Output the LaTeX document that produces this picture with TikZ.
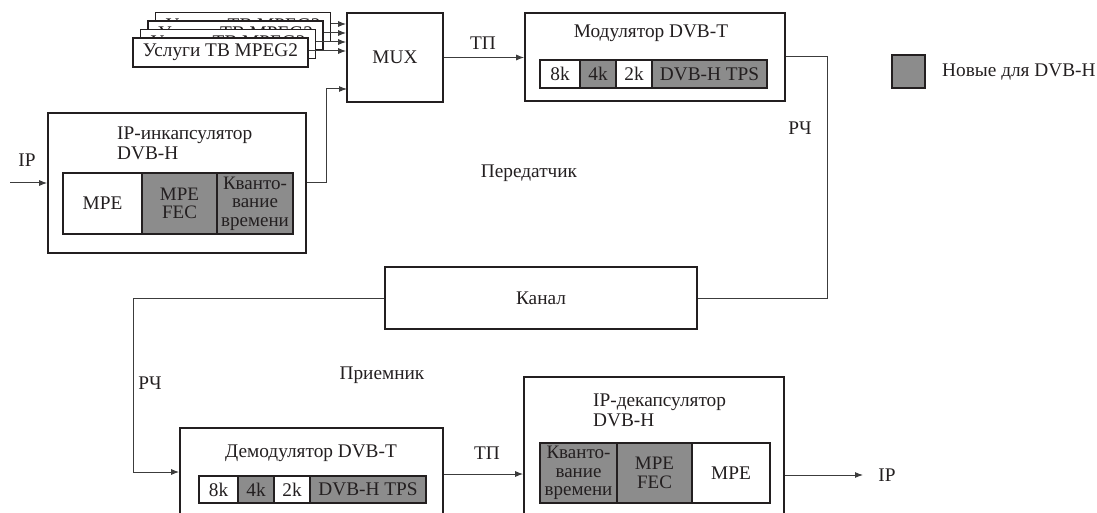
\documentclass[tikz,border=0pt]{standalone}
\usepackage{fontspec}
\setmainfont{Liberation Serif}
\usetikzlibrary{arrows.meta}
\definecolor{newgray}{RGB}{140,140,140}
\definecolor{edgecol}{RGB}{35,31,32}
\definecolor{wirecol}{RGB}{60,60,60}
\tikzset{
  every node/.style={font=\fontsize{19.3}{20}\selectfont, text=edgecol},
  blk/.style 2 args={draw=edgecol, line width=1.6pt, fill=white, inner sep=0pt,
    minimum width=#1pt, minimum height=#2pt},
  newblk/.style 2 args={blk={#1}{#2}, fill=newgray},
  wire/.style={draw=wirecol, line width=1pt},
  arr/.style={wire, -{Latex[length=8pt,width=6pt]}},
  lbl/.style={inner sep=0pt},
  cellt/.style={align=center, font=\fontsize{19}{18.5}\selectfont}
}
\begin{document}
\begin{tikzpicture}[x=1pt,y=-1pt]
\useasboundingbox (0,0) rectangle (1097,513);
\clip (0,0) rectangle (1097,513);

% service boxes (stacked)
\node[blk={175}{29}] (s4) at (243,27) {Услуги ТВ MPEG2};
\node[blk={175}{29}] (s3) at (235.5,35.5) {Услуги ТВ MPEG2};
\node[blk={175}{29}] (s2) at (228,44) {Услуги ТВ MPEG2};
\node[blk={175}{29}] (s1) at (220.5,52.5) {Услуги ТВ MPEG2};

% MUX
\node[blk={96}{89}] (mux) at (395,57.5) {MUX};

% service arrows
\draw[arr] ([yshift=3pt]s4.east) -- ([yshift=3pt]s4.east -| mux.west);
\draw[arr] ([yshift=2.5pt]s3.east) -- ([yshift=2.5pt]s3.east -| mux.west);
\draw[arr] ([yshift=2pt]s2.east) -- ([yshift=2pt]s2.east -| mux.west);
\draw[arr] ([yshift=1.5pt]s1.east) -- ([yshift=1.5pt]s1.east -| mux.west);

% Modulator
\node[blk={260}{88}] (mod) at (655,57) {};
\node[lbl] (modt) at (651,33) {Модулятор DVB-T};
\node[blk={40}{28}] (m8) at (560,74) {8k};
\node[newblk={36}{28}] (m4) at (598,74) {4k};
\node[blk={36}{28}] (m2) at (634,74) {2k};
\node[newblk={115}{28}] (mt) at (709.5,74) {DVB-H TPS};

% Encapsulator
\node[blk={258}{140}] (enc) at (177,183) {};
\node[lbl, anchor=west, align=left] (enct) at (117,143) {IP-инкапсулятор\\DVB-H};
\node[blk={79}{61}] (e1) at (102.5,203.5) {MPE};
\node[newblk={75}{61}, cellt] (e2) at (179.5,203.5) {MPE\\FEC};
\node[newblk={76}{61}, cellt] (e3) at (255,203.5) {Кванто-\\вание\\времени};

% Channel
\node[blk={312}{62}] (chan) at (541,298) {Канал};

% Demodulator
\node[blk={263}{112}] (dem) at (311.5,484) {};
\node[lbl] (demt) at (311,453) {Демодулятор DVB-T};
\node[blk={39}{27}] (d8) at (218.5,489.5) {8k};
\node[newblk={36}{27}] (d4) at (256,489.5) {4k};
\node[blk={36}{27}] (d2) at (292,489.5) {2k};
\node[newblk={116}{27}] (dt) at (368,489.5) {DVB-H TPS};

% Decapsulator
\node[blk={260}{163}] (dec) at (654,458.5) {};
\node[lbl, anchor=west, align=left] (dect) at (593,410) {IP-декапсулятор\\DVB-H};
\node[newblk={77}{60}, cellt] (c1) at (578.5,473) {Кванто-\\вание\\времени};
\node[newblk={75}{60}, cellt] (c2) at (654.5,473) {MPE\\FEC};
\node[blk={78}{60}] (c3) at (731,473) {MPE};

% Legend
\node[newblk={33}{33}] (leg) at (908.5,71.5) {};
\node[lbl, anchor=west] (legt) at (942,72) {Новые для DVB-H};

% coordinates
\coordinate (ipin) at (10,183);
\coordinate (encbend) at (326,183);
\coordinate (muxin) at (347,89);
\coordinate (rf1) at (827,298);
\coordinate (rf2) at (133,472);
\coordinate (ipout) at (863,475);

% connectors
\draw[arr] (ipin) -- (enc.west);
\draw[wire] (enc.east) -- (encbend);
\draw[arr] (encbend) |- (muxin);
\draw[arr] (mux.east) -- (mux.east -| mod.west);
\draw[wire] (mod.east) -| (rf1) -- (chan.east);
\draw[arr] (chan.west) -| (rf2) -- (rf2 -| dem.west);
\draw[arr] (dem.east |- 0,474) -- (dec.west |- 0,474);
\draw[arr] (dec.east |- ipout) -- (ipout);

% labels
\node[lbl] (lip) at (27,160) {IP};
\node[lbl] (ltp1) at (483,43) {ТП};
\node[lbl] (lrf1) at (800,128) {РЧ};
\node[lbl] (ltx) at (529,173) {Передатчик};
\node[lbl] (lrf2) at (150,383) {РЧ};
\node[lbl] (lrx) at (382,375) {Приемник};
\node[lbl] (ltp2) at (487,453) {ТП};
\node[lbl] (lip2) at (887,475) {IP};
\end{tikzpicture}
\end{document}
